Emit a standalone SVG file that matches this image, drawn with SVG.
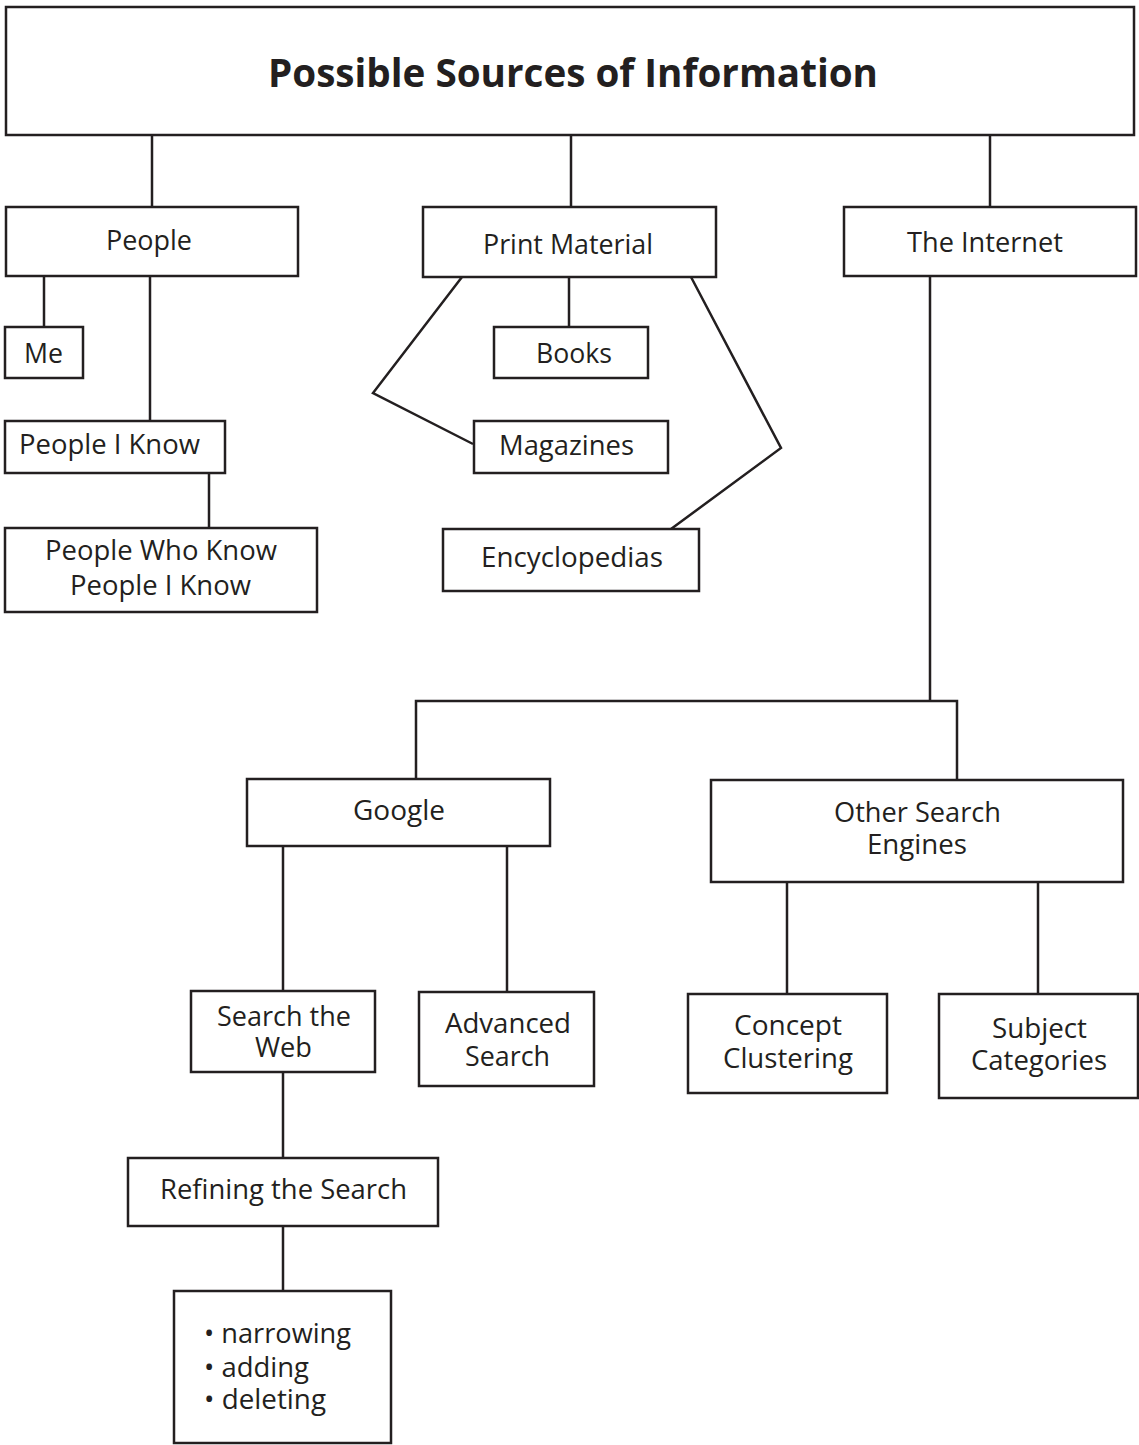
<svg xmlns="http://www.w3.org/2000/svg" width="1139" height="1445" viewBox="0 0 1139 1445">
<style>
.box{fill:#fff;stroke:#231f20;stroke-width:2.5}
.conn{fill:none;stroke:#231f20;stroke-width:2.5}
.t{font-family:"Open Sans","Noto Sans",sans-serif;font-size:27px;fill:#231f20}
.title{font-family:"Open Sans","Noto Sans",sans-serif;font-size:40px;font-weight:bold;fill:#231f20}
</style>
<rect width="1139" height="1445" fill="#fff"/>
<g id="connectors">
<line class="conn" x1="152" y1="135" x2="152" y2="207"/>
<line class="conn" x1="571" y1="135" x2="571" y2="207"/>
<line class="conn" x1="990" y1="135" x2="990" y2="207"/>
<line class="conn" x1="44" y1="276" x2="44" y2="327"/>
<line class="conn" x1="150" y1="276" x2="150" y2="421"/>
<line class="conn" x1="209" y1="473" x2="209" y2="528"/>
<line class="conn" x1="569" y1="277" x2="569" y2="327"/>
<polyline class="conn" points="462,277 373,393 473,444"/>
<polyline class="conn" points="691,277 781,448 671,529"/>
<line class="conn" x1="930" y1="276" x2="930" y2="701"/>
<polyline class="conn" points="416,780 416,701 957,701 957,780"/>
<line class="conn" x1="283" y1="846" x2="283" y2="991"/>
<line class="conn" x1="507" y1="846" x2="507" y2="992"/>
<line class="conn" x1="787" y1="882" x2="787" y2="994"/>
<line class="conn" x1="1038" y1="882" x2="1038" y2="994"/>
<line class="conn" x1="283" y1="1072" x2="283" y2="1158"/>
<line class="conn" x1="283" y1="1226" x2="283" y2="1291"/>
</g>
<g id="title">
<rect class="box" x="6" y="7" width="1128" height="128"/>
<text class="title" x="268" y="87" textLength="610" lengthAdjust="spacingAndGlyphs">Possible Sources of Information</text>
</g>
<g id="people">
<rect class="box" x="6" y="207" width="292" height="69"/>
<text class="t" x="106" y="250" textLength="86" lengthAdjust="spacingAndGlyphs">People</text>
</g>
<g id="print-material">
<rect class="box" x="423" y="207" width="293" height="70"/>
<text class="t" x="483" y="254" textLength="170" lengthAdjust="spacingAndGlyphs">Print Material</text>
</g>
<g id="the-internet">
<rect class="box" x="844" y="207" width="292" height="69"/>
<text class="t" x="907" y="252" textLength="156" lengthAdjust="spacingAndGlyphs">The Internet</text>
</g>
<g id="me">
<rect class="box" x="5" y="327" width="78" height="51"/>
<text class="t" x="24" y="363" textLength="39" lengthAdjust="spacingAndGlyphs">Me</text>
</g>
<g id="people-i-know">
<rect class="box" x="5" y="421" width="220" height="52"/>
<text class="t" x="19" y="454" textLength="181" lengthAdjust="spacingAndGlyphs">People I Know</text>
</g>
<g id="people-who-know">
<rect class="box" x="5" y="528" width="312" height="84"/>
<text class="t" x="45" y="560" textLength="232" lengthAdjust="spacingAndGlyphs">People Who Know</text>
<text class="t" x="70" y="595" textLength="181" lengthAdjust="spacingAndGlyphs">People I Know</text>
</g>
<g id="books">
<rect class="box" x="494" y="327" width="154" height="51"/>
<text class="t" x="536" y="363" textLength="76" lengthAdjust="spacingAndGlyphs">Books</text>
</g>
<g id="magazines">
<rect class="box" x="474" y="421" width="194" height="52"/>
<text class="t" x="499" y="455" textLength="135" lengthAdjust="spacingAndGlyphs">Magazines</text>
</g>
<g id="encyclopedias">
<rect class="box" x="443" y="529" width="256" height="62"/>
<text class="t" x="481" y="567" textLength="182" lengthAdjust="spacingAndGlyphs">Encyclopedias</text>
</g>
<g id="google">
<rect class="box" x="247" y="779" width="303" height="67"/>
<text class="t" x="353" y="820" textLength="92" lengthAdjust="spacingAndGlyphs">Google</text>
</g>
<g id="other-search-engines">
<rect class="box" x="711" y="780" width="412" height="102"/>
<text class="t" x="834" y="822" textLength="167" lengthAdjust="spacingAndGlyphs">Other Search</text>
<text class="t" x="867" y="854" textLength="100" lengthAdjust="spacingAndGlyphs">Engines</text>
</g>
<g id="search-the-web">
<rect class="box" x="191" y="991" width="184" height="81"/>
<text class="t" x="217" y="1026" textLength="134" lengthAdjust="spacingAndGlyphs">Search the</text>
<text class="t" x="255" y="1057" textLength="57" lengthAdjust="spacingAndGlyphs">Web</text>
</g>
<g id="advanced-search">
<rect class="box" x="419" y="992" width="175" height="94"/>
<text class="t" x="445" y="1033" textLength="126" lengthAdjust="spacingAndGlyphs">Advanced</text>
<text class="t" x="465" y="1066" textLength="85" lengthAdjust="spacingAndGlyphs">Search</text>
</g>
<g id="concept-clustering">
<rect class="box" x="688" y="994" width="199" height="99"/>
<text class="t" x="734" y="1035" textLength="108" lengthAdjust="spacingAndGlyphs">Concept</text>
<text class="t" x="723" y="1068" textLength="130" lengthAdjust="spacingAndGlyphs">Clustering</text>
</g>
<g id="subject-categories">
<rect class="box" x="939" y="994" width="199" height="104"/>
<text class="t" x="992" y="1038" textLength="95" lengthAdjust="spacingAndGlyphs">Subject</text>
<text class="t" x="971" y="1070" textLength="136" lengthAdjust="spacingAndGlyphs">Categories</text>
</g>
<g id="refining-the-search">
<rect class="box" x="128" y="1158" width="310" height="68"/>
<text class="t" x="160" y="1199" textLength="247" lengthAdjust="spacingAndGlyphs">Refining the Search</text>
</g>
<g id="refining-options">
<rect class="box" x="174" y="1291" width="217" height="152"/>
<text class="t" x="204" y="1343" textLength="147" lengthAdjust="spacingAndGlyphs">• narrowing</text>
<text class="t" x="204" y="1377" textLength="105" lengthAdjust="spacingAndGlyphs">• adding</text>
<text class="t" x="204" y="1409" textLength="122" lengthAdjust="spacingAndGlyphs">• deleting</text>
</g>
</svg>
